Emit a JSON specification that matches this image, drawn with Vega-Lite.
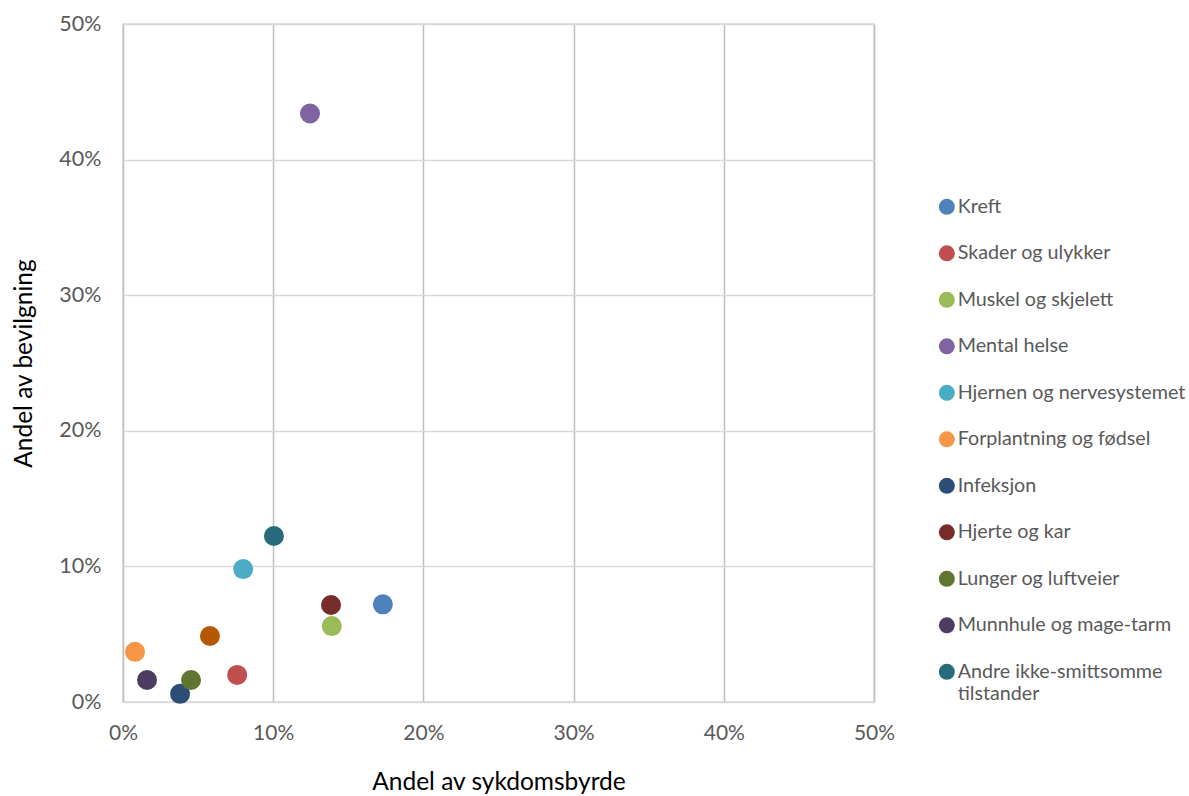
{
  "$schema": "https://vega.github.io/schema/vega-lite/v6.json",
  "width": 751,
  "height": 678,
  "autosize": {"type": "none"},
  "padding": {"left": 123, "top": 24, "right": 315, "bottom": 94},
  "background": "white",
  "config": {
    "font": "Lato",
    "view": {"stroke": "#D9D9D9", "strokeWidth": 1.5},
    "axis": {"domain": false, "ticks": false}
  },
  "data": {
    "values": [
      {"kategori": "Kreft", "sykdomsbyrde": 0.173, "bevilgning": 0.072},
      {"kategori": "Skader og ulykker", "sykdomsbyrde": 0.076, "bevilgning": 0.020},
      {"kategori": "Muskel og skjelett", "sykdomsbyrde": 0.139, "bevilgning": 0.056},
      {"kategori": "Mental helse", "sykdomsbyrde": 0.1245, "bevilgning": 0.434},
      {"kategori": "Hjernen og nervesystemet", "sykdomsbyrde": 0.080, "bevilgning": 0.098},
      {"kategori": "Forplantning og fødsel", "sykdomsbyrde": 0.008, "bevilgning": 0.037},
      {"kategori": "Infeksjon", "sykdomsbyrde": 0.038, "bevilgning": 0.006},
      {"kategori": "Hjerte og kar", "sykdomsbyrde": 0.1385, "bevilgning": 0.0715},
      {"kategori": "Lunger og luftveier", "sykdomsbyrde": 0.0453, "bevilgning": 0.0162},
      {"kategori": "Munnhule og mage-tarm", "sykdomsbyrde": 0.016, "bevilgning": 0.0162},
      {"kategori": "Andre ikke-smittsomme tilstander", "sykdomsbyrde": 0.1005, "bevilgning": 0.1224},
      {"kategori": "Øvrige", "sykdomsbyrde": 0.0579, "bevilgning": 0.0487}
    ]
  },
  "mark": {"type": "circle", "size": 400, "opacity": 1},
  "encoding": {
    "x": {
      "field": "sykdomsbyrde", "type": "quantitative",
      "scale": {"domain": [0, 0.5], "nice": false, "zero": true},
      "axis": {
        "format": ".0%", "values": [0, 0.1, 0.2, 0.3, 0.4, 0.5],
        "title": "Andel av sykdomsbyrde",
        "titleFontSize": 24.5, "titleFontWeight": "normal", "titleColor": "#000000", "titlePadding": 27,
        "labelFontSize": 21, "labelColor": "#595959", "labelPadding": 20, "labelFlush": false,
        "gridColor": "#BFBFBF", "gridWidth": 1.5
      }
    },
    "y": {
      "field": "bevilgning", "type": "quantitative",
      "scale": {"domain": [0, 0.5], "nice": false, "zero": true},
      "axis": {
        "format": ".0%", "values": [0, 0.1, 0.2, 0.3, 0.4, 0.5],
        "title": "Andel av bevilgning",
        "titleFontSize": 24.5, "titleFontWeight": "normal", "titleColor": "#000000", "titlePadding": 22,
        "labelFontSize": 21.5, "labelColor": "#595959", "labelPadding": 22, "labelFlush": false,
        "gridColor": "#D9D9D9", "gridWidth": 1.5
      }
    },
    "color": {
      "field": "kategori", "type": "nominal",
      "scale": {
        "domain": ["Kreft", "Skader og ulykker", "Muskel og skjelett", "Mental helse", "Hjernen og nervesystemet", "Forplantning og fødsel", "Infeksjon", "Hjerte og kar", "Lunger og luftveier", "Munnhule og mage-tarm", "Andre ikke-smittsomme tilstander", "Øvrige"],
        "range": ["#4F81BD", "#C0504D", "#9BBB59", "#8064A2", "#4BACC6", "#F79646", "#2C4D75", "#772C2A", "#5F7530", "#4D3B62", "#276A7C", "#B65708"]
      },
      "legend": {
        "values": ["Kreft", "Skader og ulykker", "Muskel og skjelett", "Mental helse", "Hjernen og nervesystemet", "Forplantning og fødsel", "Infeksjon", "Hjerte og kar", "Lunger og luftveier", "Munnhule og mage-tarm", "Andre ikke-smittsomme tilstander"],
        "title": null,
        "orient": "none", "legendX": 814, "legendY": 173,
        "padding": 0,
        "symbolType": "circle", "symbolSize": 256, "symbolStrokeWidth": 0,
        "labelFontSize": 19.7, "labelColor": "#595959", "labelOffset": 1,
        "labelLimit": 300, "rowPadding": 25.5,
        "labelExpr": "datum.label == 'Andre ikke-smittsomme tilstander' ? ['Andre ikke-smittsomme', 'tilstander'] : datum.label"
      }
    }
  }
}
